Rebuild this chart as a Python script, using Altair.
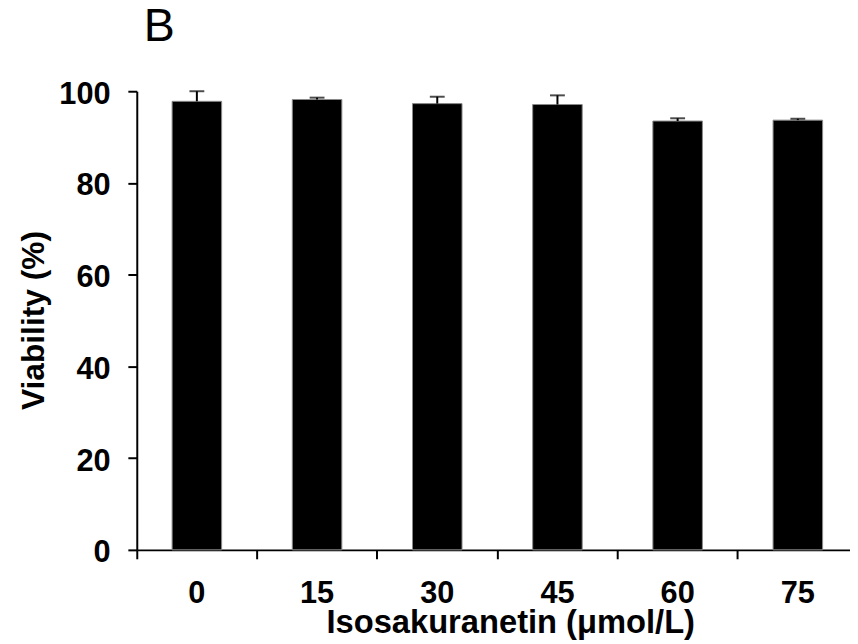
import altair as alt
import pandas as pd

concentrations = ["0", "15", "30", "45", "60", "75"]
viability = [97.8, 98.2, 97.3, 97.1, 93.5, 93.7]
error = [2.2, 0.4, 1.5, 2.0, 0.6, 0.3]

df = pd.DataFrame({"conc": concentrations, "viability": viability, "err": error})

FONT = "Liberation Sans"

x_enc = alt.X(
    "conc:N",
    sort=concentrations,
    scale=alt.Scale(range=[0, 728], paddingInner=0, paddingOuter=0),
    axis=alt.Axis(
        title="Isosakuranetin (μmol/L)",
        labelAngle=0,
        bandPosition=0,
        labelFont=FONT, labelFontSize=31, labelFontWeight="bold", labelColor="black",
        labelBaseline="alphabetic", labelPadding=44,
        tickSize=9, tickWidth=2, tickColor="black",
        domainWidth=2, domainColor="black",
        titleFont=FONT, titleFontSize=33, titleFontWeight="bold", titleColor="black",
        titleX=377, titleY=83, titleAlign="center", titleBaseline="alphabetic",
        grid=False,
    ),
)

y_enc = alt.Y(
    "viability:Q",
    scale=alt.Scale(domain=[0, 100], nice=False),
    axis=alt.Axis(
        title="Viability (%)",
        values=[0, 20, 40, 60, 80, 100],
        labelFont=FONT, labelFontSize=31, labelFontWeight="bold", labelColor="black",
        labelBaseline="alphabetic", labelOffset=12, labelPadding=18,
        tickSize=9, tickWidth=2, tickColor="black",
        domainWidth=2, domainColor="black",
        titleFont=FONT, titleFontSize=32, titleFontWeight="bold", titleColor="black",
        titleAngle=270, titleX=-94, titleY=231, titleAlign="center", titleBaseline="alphabetic",
        grid=False,
    ),
)

base = alt.Chart(df)

bars = base.mark_bar(size=50, color="black", stroke="#8a8a8a", strokeWidth=1).encode(
    x=x_enc, y=y_enc
)

rules = base.mark_rule(color="black", strokeWidth=2).encode(
    x=alt.X("conc:N", sort=concentrations),
    y="viability:Q",
    y2="upper:Q",
).transform_calculate(upper="datum.viability + datum.err")

caps = base.mark_tick(color="black", size=15, thickness=2, orient="horizontal").encode(
    x=alt.X("conc:N", sort=concentrations),
    y="upper:Q",
).transform_calculate(upper="datum.viability + datum.err")

chart = alt.layer(bars, rules, caps).properties(
    width=720,
    height=463,
    autosize=alt.AutoSizeParams(type="none"),
    padding={"left": 130, "top": 81, "right": 0, "bottom": 92},
    title=alt.TitleParams(
        "B", anchor="start", frame="group", font=FONT, fontSize=47,
        fontWeight="normal", color="black", dx=7, dy=-24,
    ),
).configure_view(stroke=None)

chart.save("out.html", embed_options={"renderer": "svg", "actions": False})
